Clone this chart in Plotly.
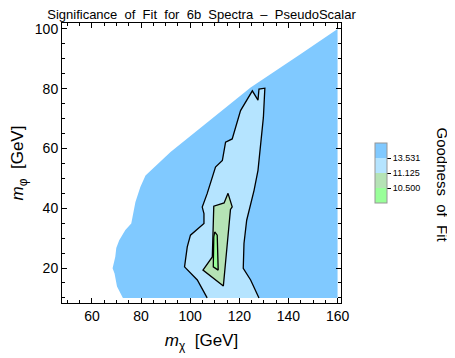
import plotly.graph_objects as go

# level boundaries shown on the colour bar
levels = [10.500, 11.125, 13.531]
level_labels = ["10.500", "11.125", "13.531"]
band_colors = ["rgb(153,255,153)", "rgb(181,227,181)", "rgb(181,228,255)", "rgb(128,201,255)"]

# region where the fit was evaluated (value > 13.531 outside the inner contours)
outer_x = [72.6, 70.2, 69.2, 68.4, 69.5, 69.9, 71.1, 73.6, 76.0, 77.7, 79.7, 81.8,
           92.0, 124.6, 145.0, 160.0, 160.0, 72.6]
outer_y = [10.0, 13.8, 18.2, 19.9, 23.8, 26.7, 29.3, 32.7, 34.9, 42.1, 47.1, 51.0,
           58.8, 80.4, 91.6, 100.0, 10.0, 10.0]

# contour at 13.531 (open at the bottom edge)
c1_x = [106.9, 102.9, 97.7, 98.8, 100.1, 105.6, 105.6, 104.9, 106.9, 109.6, 110.3,
        113.1, 114.4, 117.1, 119.2, 120.5, 125.3, 127.6, 128.0, 130.4, 129.8, 128.7,
        127.6, 126.0, 123.0, 121.9, 121.6, 124.6, 128.0]
c1_y = [10.0, 16.0, 20.4, 27.1, 31.0, 34.9, 38.2, 40.4, 44.9, 52.1, 53.8,
        56.0, 62.1, 63.2, 69.3, 72.7, 79.3, 76.2, 79.9, 80.2, 70.4, 60.4,
        52.7, 46.0, 36.0, 28.2, 19.9, 16.0, 10.0]

# contour at 11.125
c2_x = [115.4, 117.1, 116.4, 113.5, 105.2, 109.0, 109.6, 113.8, 115.4]
c2_y = [45.0, 40.5, 39.6, 14.0, 19.3, 23.7, 40.7, 41.8, 45.0]

# contour at 10.500
c3_x = [110.0, 111.0, 111.4, 109.4, 109.6, 110.0]
c3_y = [32.1, 31.0, 19.3, 20.4, 30.4, 32.1]

font = "Liberation Sans, Arial, sans-serif"

fig = go.Figure()
fig.add_trace(go.Scatter(x=outer_x, y=outer_y, mode="lines", fill="toself",
                         fillcolor=band_colors[3], line=dict(width=0),
                         hoverinfo="skip"))
fig.add_trace(go.Scatter(x=c1_x, y=c1_y, mode="lines", fill="toself",
                         fillcolor=band_colors[2], line=dict(width=0),
                         hoverinfo="skip"))
fig.add_trace(go.Scatter(x=c1_x, y=c1_y, mode="lines",
                         line=dict(color="black", width=1.3), hoverinfo="skip"))
fig.add_trace(go.Scatter(x=c2_x, y=c2_y, mode="lines", fill="toself",
                         fillcolor=band_colors[1], line=dict(color="black", width=1.3),
                         hoverinfo="skip"))
fig.add_trace(go.Scatter(x=c3_x, y=c3_y, mode="lines", fill="toself",
                         fillcolor=band_colors[0], line=dict(color="black", width=1.3),
                         hoverinfo="skip"))

# colour bar only
cscale = [[0, band_colors[0]], [0.25, band_colors[0]],
          [0.25, band_colors[1]], [0.5, band_colors[1]],
          [0.5, band_colors[2]], [0.75, band_colors[2]],
          [0.75, band_colors[3]], [1, band_colors[3]]]
fig.add_trace(go.Scatter(
    x=[None], y=[None], mode="markers",
    marker=dict(color=[0], cmin=0, cmax=4, colorscale=cscale, showscale=True,
                colorbar=dict(x=1.122, xanchor="left", xpad=0, y=0.464, yanchor="middle",
                              len=80, lenmode="pixels", thickness=12,
                              outlinecolor="rgb(150,150,150)", outlinewidth=1,
                              tickvals=[1, 2, 3], ticktext=level_labels,
                              ticks="outside", ticklen=4, tickcolor="black",
                              tickfont=dict(size=9, color="black", family=font))),
    hoverinfo="skip"))

axis = dict(showline=True, linecolor="black", linewidth=1, mirror="ticks",
            ticks="inside", ticklen=5, tickcolor="black", showgrid=False, zeroline=False,
            automargin=False, tickfont=dict(size=14, color="black", family=font))

# the page adds an 8px body margin, so the figure is 8px smaller and margins shifted
fig.update_layout(
    width=447, height=350,
    margin=dict(l=54, r=114, t=15, b=55),
    plot_bgcolor="white", paper_bgcolor="white",
    showlegend=False,
    title=dict(text="Significance  of  Fit  for  6b  Spectra  \u2013  PseudoScalar",
               x=0.5, xref="paper", xanchor="center",
               y=1 - 6.5 / 350, yref="container", yanchor="middle",
               font=dict(size=13, color="black", family=font)),
    xaxis=dict(axis, range=[47.8, 161.4], tickvals=[60, 80, 100, 120, 140, 160],
               minor=dict(ticks="inside", dtick=5, ticklen=3, tickcolor="black"),
               title=dict(text="<i>m</i><sub>\u03c7</sub>  [GeV]", standoff=11,
                          font=dict(size=17, color="black", family=font))),
    yaxis=dict(axis, range=[8.3, 102], tickvals=[20, 40, 60, 80, 100],
               minor=dict(ticks="inside", dtick=5, ticklen=3, tickcolor="black"),
               title=dict(text="<i>m</i><sub>\u03c6</sub>  [GeV]", standoff=10,
                          font=dict(size=17, color="black", family=font))),
    annotations=[dict(text="Goodness  of  Fit", textangle=90,
                      x=(452 - 62) / 279, y=(303 - 185) / 280,
                      xref="paper", yref="paper", showarrow=False,
                      font=dict(size=15, color="black", family=font))],
)

fig.write_html("out.html")
